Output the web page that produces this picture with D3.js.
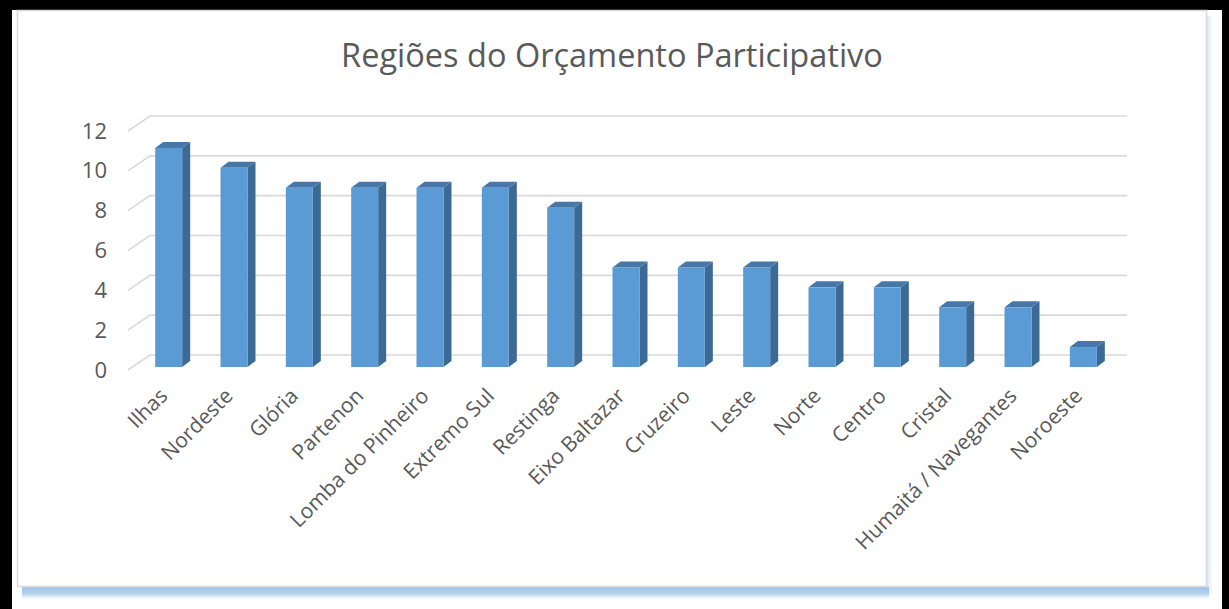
<!DOCTYPE html>
<html>
<head>
<meta charset="utf-8">
<script src="https://cdn.jsdelivr.net/npm/d3@7"></script>
<style>
  html, body { margin: 0; padding: 0; background: #fff; }
  svg { display: block; }
  text { font-family: "Open Sans", sans-serif; fill: #595959; }
</style>
</head>
<body>
<div id="chart"></div>
<script>
var categories = ['Ilhas', 'Nordeste', 'Glória', 'Partenon', 'Lomba do Pinheiro', 'Extremo Sul',
    'Restinga', 'Eixo Baltazar', 'Cruzeiro', 'Leste', 'Norte', 'Centro', 'Cristal',
    'Humaitá / Navegantes', 'Noroeste'];
var values = [11, 10, 9, 9, 9, 9, 8, 5, 5, 5, 4, 4, 3, 3, 1];
var yTicks = [0, 2, 4, 6, 8, 10, 12];
var title = 'Regiões do Orçamento Participativo';

var W = 1229, H = 609;
var svg = d3.select('#chart').append('svg')
    .attr('width', W)
    .attr('height', H);

var defs = svg.append('defs');
var glow = defs.append('linearGradient')
    .attr('id', 'glow')
    .attr('x1', 0).attr('y1', 0).attr('x2', 0).attr('y2', 1);
glow.append('stop').attr('offset', '0%').attr('stop-color', '#9dc3e6');
glow.append('stop').attr('offset', '55%').attr('stop-color', '#b4d1ec');
glow.append('stop').attr('offset', '100%').attr('stop-color', '#ffffff');
var glowR = defs.append('linearGradient')
    .attr('id', 'glowR')
    .attr('x1', 0).attr('y1', 0).attr('x2', 1).attr('y2', 0);
glowR.append('stop').attr('offset', '0%').attr('stop-color', '#dbe8f5');
glowR.append('stop').attr('offset', '100%').attr('stop-color', '#ffffff');

// black frame (top, left, right)
svg.append('rect').attr('x', 0).attr('y', 0).attr('width', W).attr('height', 10).attr('fill', '#000');
svg.append('rect').attr('x', 0).attr('y', 0).attr('width', 12).attr('height', H).attr('fill', '#000');
svg.append('rect').attr('x', 1222).attr('y', 0).attr('width', 7).attr('height', H).attr('fill', '#000');

// chart panel with soft blue shadow
svg.append('rect').attr('x', 1207).attr('y', 16).attr('width', 6).attr('height', 578).attr('fill', 'url(#glowR)');
svg.append('rect').attr('x', 22).attr('y', 587).attr('width', 1187).attr('height', 12).attr('fill', 'url(#glow)');
svg.append('rect')
    .attr('x', 17.5).attr('y', 10.5)
    .attr('width', 1189).attr('height', 576)
    .attr('fill', '#fff')
    .attr('stroke', '#d9d9d9')
    .attr('stroke-width', 1.5);

svg.append('text')
    .attr('x', 612)
    .attr('y', 67)
    .attr('text-anchor', 'middle')
    .style('font-size', '32.5px')
    .text(title);

// scales
var x = d3.scaleBand()
    .domain(categories)
    .range([136, 1116])
    .padding(0);
var y = d3.scaleLinear()
    .domain([0, 12])
    .range([367, 128]);

var barW = 27, dx = 8, dy = 6;
var backDx = 22, backDy = 15;

// gridlines with the slanted side wall segment
svg.append('g')
    .selectAll('path')
    .data(yTicks)
    .enter().append('path')
    .attr('d', function (d) {
        var yy = y(d);
        return 'M128,' + (yy + 3) + 'L' + (128 + backDx) + ',' + (yy + 3 - backDy) + 'L1127,' + (yy + 3 - backDy);
    })
    .attr('fill', 'none')
    .attr('stroke', '#d9d9d9')
    .attr('stroke-width', 1.6);

// y axis labels
var yAxis = svg.append('g')
    .attr('transform', 'translate(107,3)')
    .call(d3.axisLeft(y).tickValues(yTicks).tickSize(0).tickPadding(0));
yAxis.select('.domain').remove();
yAxis.selectAll('text')
    .style('font-family', '"Open Sans", sans-serif')
    .style('font-size', '22px')
    .attr('fill', '#595959');

// 3d columns
var bars = svg.append('g')
    .selectAll('g')
    .data(values)
    .enter().append('g');

function bx(i) {
    return x(categories[i]) + (x.bandwidth() - barW) / 2;
}

bars.append('path')
    .attr('d', function (d, i) {
        var x0 = bx(i) + barW, yt = y(d), yb = y(0);
        return 'M' + x0 + ',' + yt + 'L' + (x0 + dx) + ',' + (yt - dy) + 'L' + (x0 + dx) + ',' + (yb - dy) + 'L' + x0 + ',' + yb + 'Z';
    })
    .attr('fill', '#3b6a94');

bars.append('path')
    .attr('d', function (d, i) {
        var x0 = bx(i), yt = y(d);
        return 'M' + x0 + ',' + yt + 'L' + (x0 + dx) + ',' + (yt - dy) + 'L' + (x0 + barW + dx) + ',' + (yt - dy) + 'L' + (x0 + barW) + ',' + yt + 'Z';
    })
    .attr('fill', '#4777a8');

bars.append('rect')
    .attr('x', function (d, i) { return bx(i); })
    .attr('y', function (d) { return y(d); })
    .attr('width', barW)
    .attr('height', function (d) { return y(0) - y(d); })
    .attr('fill', '#5b9bd5');

// category labels
var xAxis = svg.append('g')
    .attr('transform', 'translate(0,392)')
    .call(d3.axisBottom(x).tickSize(0).tickPadding(0));
xAxis.select('.domain').remove();
xAxis.selectAll('text')
    .style('font-family', '"Open Sans", sans-serif')
    .style('font-size', '21px')
    .attr('fill', '#595959')
    .style('text-anchor', 'end')
    .attr('y', 0)
    .attr('dy', '0.35em')
    .attr('transform', 'translate(-5,0) rotate(-45)');
</script>
</body>
</html>
